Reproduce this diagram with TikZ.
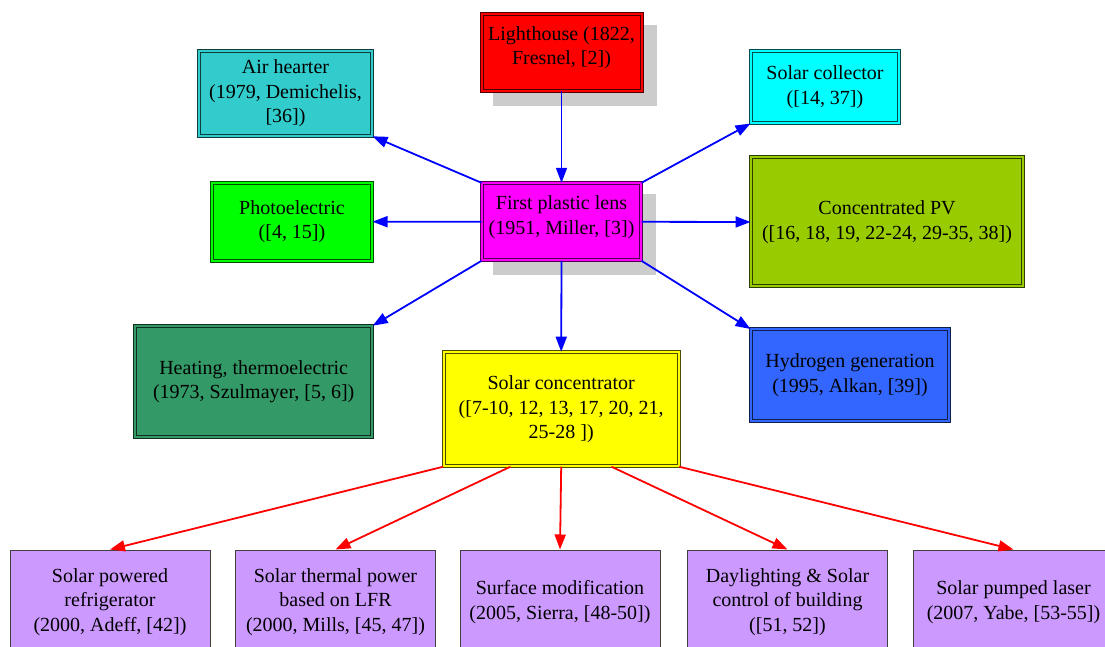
\documentclass[tikz,border=0pt]{standalone}
\usepackage{fontspec}
\setmainfont{Liberation Serif}
\usetikzlibrary{arrows.meta,calc}
\definecolor{cRed}{HTML}{FF0000}
\definecolor{cMag}{HTML}{FF00FF}
\definecolor{cAir}{HTML}{33CCCC}
\definecolor{cPhoto}{HTML}{00FF00}
\definecolor{cHeat}{HTML}{339966}
\definecolor{cColl}{HTML}{00FFFF}
\definecolor{cPV}{HTML}{99CC00}
\definecolor{cHyd}{HTML}{3366FF}
\definecolor{cConc}{HTML}{FFFF00}
\definecolor{cLeaf}{HTML}{CC99FF}
\definecolor{cBlue}{HTML}{0000FF}
\definecolor{cRedArrow}{HTML}{FF0000}
\definecolor{cShadow}{HTML}{CCCCCC}
\begin{document}
\begin{tikzpicture}[x=1pt,y=1pt,
  box/.style={rectangle, align=center, inner sep=2pt, font=\rmfamily\fontsize{20}{24.5}\selectfont, text=black},
  dbox/.style={box, fill=#1, draw=#1!30!black, double=#1, double distance=2pt, line width=1pt},
  shadowbox/.style={rectangle, fill=cShadow, draw=none, inner sep=0pt},
  leaf/.style={box, fill=cLeaf, draw=black!75, line width=1pt, minimum width=200pt, minimum height=104pt},
  bluearrow/.style={draw=cBlue, line width=1.8pt, -{Triangle[length=15pt,width=11pt]}},
  redarrow/.style={draw=cRedArrow, line width=1.8pt, -{Triangle[length=15pt,width=11pt]}}
]
\clip (0,0) rectangle (1105,646);
\fill[white] (0,0) rectangle (1105,646);

\node[shadowbox, minimum width=164pt, minimum height=81pt] (lhshadow) at (574.5,580.7) {};
\node[shadowbox, minimum width=163pt, minimum height=81pt] (lensshadow) at (574.5,411.2) {};

\node[dbox=cRed, text depth=13pt, minimum width=160pt, minimum height=77pt] (lh) at (561.5,593.7) {Lighthouse (1822,\\Fresnel, [2])};
\node[dbox=cMag, text depth=13pt, minimum width=159pt, minimum height=77pt] (lens) at (561.5,424.2) {First plastic lens\\(1951, Miller, [3])};
\node[dbox=cAir, minimum width=173pt, minimum height=85pt] (air) at (285.5,552.7) {Air hearter\\(1979, Demichelis,\\{[36])}};
\node[dbox=cPhoto, minimum width=160pt, minimum height=78pt] (photo) at (292,424.3) {Photoelectric\\{([4, 15])}};
\node[dbox=cHeat, minimum width=237pt, minimum height=111pt] (heat) at (253.7,264.3) {Heating, thermoelectric\\(1973, Szulmayer, [5, 6])};
\node[dbox=cColl, minimum width=148pt, minimum height=72pt] (coll) at (825,559) {Solar collector\\{([14, 37])}};
\node[dbox=cPV, minimum width=272pt, minimum height=129pt] (pv) at (887,424) {Concentrated PV\\{([16, 18, 19, 22-24, 29-35, 38])}};
\node[dbox=cHyd, minimum width=198pt, minimum height=91pt] (hyd) at (850,271) {Hydrogen generation\\(1995, Alkan, [39])};
\node[dbox=cConc, minimum width=235pt, minimum height=114pt] (conc) at (561.2,236.8) {Solar concentrator\\{([7-10, 12, 13, 17, 20, 21,}\\25-28 ])};

\node[leaf] (l1) at (110,44) {Solar powered\\refrigerator\\(2000, Adeff, [42])};
\node[leaf] (l2) at (335.5,44) {Solar thermal power\\based on LFR\\(2000, Mills, [45, 47])};
\node[leaf] (l3) at (560,44) {Surface modification\\(2005, Sierra, [48-50])};
\node[leaf] (l4) at (787.5,44) {Daylighting \& Solar\\control of building\\{([51, 52])}};
\node[leaf] (l5) at (1013.5,44) {Solar pumped laser\\(2007, Yabe, [53-55])};

\draw[bluearrow] (lh.south) -- (lens.north);
\draw[bluearrow] (lens.north west) -- (air.south east);
\draw[bluearrow] (lens.west) -- (photo.east);
\draw[bluearrow] (lens.south west) -- (heat.north east);
\draw[bluearrow] (lens.north east) -- (coll.south west);
\draw[bluearrow] (lens.east) -- (pv.west);
\draw[bluearrow] (lens.south east) -- (hyd.north west);
\draw[bluearrow] (lens.south) -- (conc.north);

\draw[redarrow] (conc.south west) -- (l1.north);
\draw[redarrow] ($(conc.south west)!0.285!(conc.south east)$) -- (l2.north);
\draw[redarrow] (conc.south) -- (l3.north);
\draw[redarrow] ($(conc.south west)!0.713!(conc.south east)$) -- (l4.north);
\draw[redarrow] (conc.south east) -- (l5.north);
\end{tikzpicture}
\end{document}
